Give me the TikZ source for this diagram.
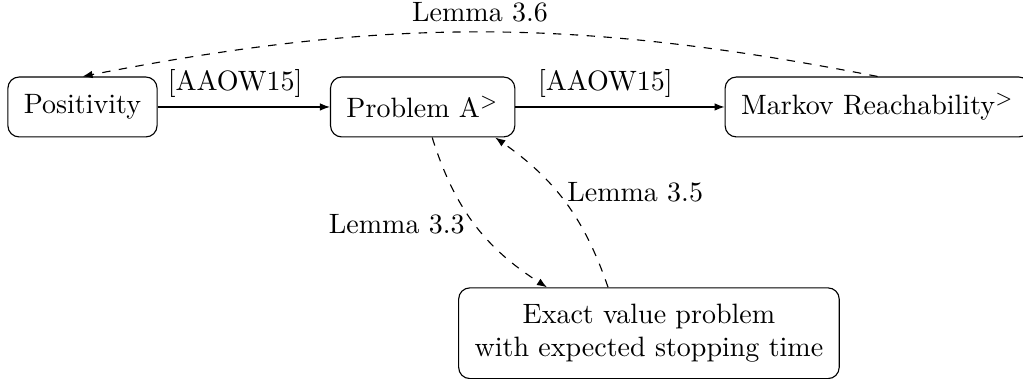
\documentclass[tikz,border=0pt]{standalone}
\usepackage{tikz}
\usepackage{amsmath}
\usetikzlibrary{positioning, arrows.meta}

\begin{document}
\begin{tikzpicture}[
			node distance=4.27cm,
			on grid,
			>={Latex[length=3.6pt]},
			problem/.style={
				draw,
				rounded corners,
				inner sep=5.7pt,
				minimum height=21.4pt,
				align=center
			},
			lemma/.style={
				dashed
			},
			every edge/.style={
				draw,
				->
			}
			]
			\useasboundingbox (-29.46pt,-97.14pt) rectangle (335.89pt,38.21pt);
			
			% Problems
			\node[problem] (positivity) {Positivity};
			\node[problem, right=of positivity] (probA) {Problem A$^>$};
			\node[problem, right=5.71cm of probA] (markov) {Markov Reachability$^>$};
			\node[problem, below right=2.84cm and 2.84cm of probA] (exact) {Exact value problem\\with expected stopping time};
			
			% Reductions
			\path
			(positivity) edge node[above, pos=0.45] {[AAOW15]} (probA)
			(probA) edge node[above, pos=0.43] {[AAOW15]} (markov)
			(markov.north) edge[lemma, bend right=11] node[above] {Lemma 3.6} (positivity.north)
			([xshift=3.4pt]probA.south) edge[lemma, bend right=20] node[left] {Lemma 3.3} ([xshift=-36.4pt]exact.north)
			([xshift=-14.6pt]exact.north) edge[lemma, bend right=18] node[right, pos=0.57] {Lemma 3.5} ([xshift=25.9pt]probA.south);
		\end{tikzpicture}
\end{document}
